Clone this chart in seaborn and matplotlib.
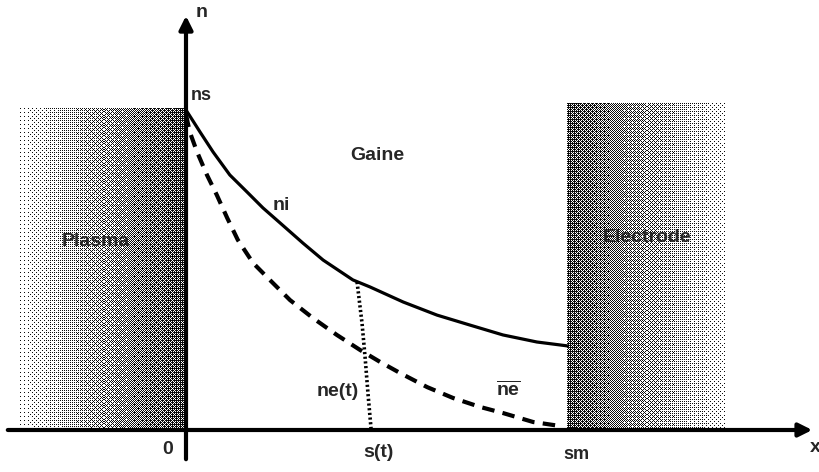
import numpy as np
import pandas as pd
import matplotlib.pyplot as plt
import seaborn as sns

# x in units of the maximum sheath thickness s_m, densities in units of n_s
x_ni = [0.0, 0.037, 0.071, 0.115, 0.160, 0.202, 0.247, 0.307, 0.360, 0.438,
        0.483, 0.570, 0.659, 0.745, 0.832, 0.921, 1.0]
n_i = [1.0, 0.931, 0.869, 0.797, 0.744, 0.694, 0.647, 0.584, 0.531, 0.469,
       0.447, 0.400, 0.359, 0.328, 0.297, 0.275, 0.263]
x_ne = [0.0, 0.010, 0.029, 0.055, 0.081, 0.108, 0.136, 0.176, 0.220, 0.273, 0.333,
        0.396, 0.457, 0.509, 0.562, 0.633, 0.701, 0.772, 0.832, 0.911, 0.982]
n_e_bar = [0.985, 0.931, 0.869, 0.797, 0.734, 0.663, 0.594, 0.522, 0.469, 0.406, 0.350,
           0.297, 0.250, 0.213, 0.178, 0.134, 0.100, 0.072, 0.053, 0.025, 0.0125]
x_st = [0.449, 0.462, 0.470, 0.478, 0.486]
n_st = [0.4625, 0.334, 0.228, 0.109, 0.0]

plasma_x = [-0.4357, 0.0]
plasma_top = 1.00625
electrode_x = [1.0, 1.4147]
electrode_top = 1.021875

sns.set_style("white")
plt.rcParams['font.family'] = ['Liberation Sans', 'DejaVu Sans']
plt.rcParams['mathtext.fontset'] = 'custom'
plt.rcParams['mathtext.rm'] = 'Liberation Sans:bold'

fig = plt.figure(figsize=(8.19, 4.72), dpi=100)
ax = fig.add_axes([0, 0, 1, 1])
ax.set_xlim(-186 / 381, 633 / 381)
ax.set_ylim(-42 / 320, 430 / 320)
ax.axis('off')

# 8x8 ordered dither -> halftone look of the shaded blocks (one cell per pixel)
b = np.array([[0, 2], [3, 1]])
for _ in range(2):
    b = np.block([[4 * b, 4 * b + 2], [4 * b + 3, 4 * b + 1]])
bayer = (b + 0.5) / b.size


def halftone(w, h, dark_left, dark_right):
    g = np.linspace(dark_left, dark_right, w)[None, :].repeat(h, axis=0)
    n = bayer.shape[0]
    t = np.tile(bayer, (h // n + 1, w // n + 1))[:h, :w]
    return (g > t).astype(float)


ax.imshow(halftone(166, 322, 0.06, 0.72), cmap='gray_r', vmin=0, vmax=1.05,
          interpolation='nearest', aspect='auto',
          extent=[plasma_x[0], plasma_x[1], 0.0, plasma_top], zorder=1)
ax.imshow(halftone(158, 327, 0.7, 0.08), cmap='gray_r', vmin=0, vmax=1.05,
          interpolation='nearest', aspect='auto',
          extent=[electrode_x[0], electrode_x[1], 0.0, electrode_top], zorder=1)

df_i = pd.DataFrame({'x': x_ni, 'n': n_i})
df_e = pd.DataFrame({'x': x_ne, 'n': n_e_bar})
df_s = pd.DataFrame({'x': x_st, 'n': n_st})
sns.lineplot(data=df_i, x='x', y='n', ax=ax, color='black', lw=2.3, sort=False, zorder=3)
sns.lineplot(data=df_e, x='x', y='n', ax=ax, color='black', lw=3.0, sort=False, zorder=3,
             linestyle=(0, (3.0, 2.0)))
sns.lineplot(data=df_s, x='x', y='n', ax=ax, color='black', lw=2.6, sort=False, zorder=3,
             linestyle=(0, (0.6, 0.7)))

# axes with arrows
ax.annotate('', xy=(1.651, 0), xytext=(-0.475, 0),
            arrowprops=dict(arrowstyle='-|>', color='black', lw=3, mutation_scale=20), zorder=4)
ax.annotate('', xy=(0, 1.303), xytext=(0, -0.1),
            arrowprops=dict(arrowstyle='-|>', color='black', lw=3, mutation_scale=20), zorder=4)

fs = 14
kw = dict(fontweight='bold', ha='center', va='center', zorder=5)
ax.text(0.042, 1.306, 'n', fontsize=fs, **kw)
ax.text(0.039, 1.044, 'ns', fontsize=fs - 1, **kw)
ax.text(0.501, 0.859, 'Gaine', fontsize=fs, **kw)
ax.text(0.249, 0.703, 'ni', fontsize=fs, **kw)
ax.text(-0.236, 0.588, 'Plasma', fontsize=fs, **kw)
ax.text(1.210, 0.603, 'Electrode', fontsize=fs, **kw)
ax.text(0.399, 0.119, 'ne(t)', fontsize=fs, **kw)
ax.text(0.845, 0.125, r'$\overline{\mathrm{ne}}$', fontsize=fs, ha='center', va='center')
ax.text(-0.047, -0.0625, '0', fontsize=fs, **kw)
ax.text(0.504, -0.0688, 's(t)', fontsize=fs, **kw)
ax.text(1.024, -0.078, 'sm', fontsize=fs - 1, **kw)
ax.text(1.651, -0.056, 'x', fontsize=fs, **kw)

plt.savefig('out.png', dpi=100)
print('Plot saved as out.png')
